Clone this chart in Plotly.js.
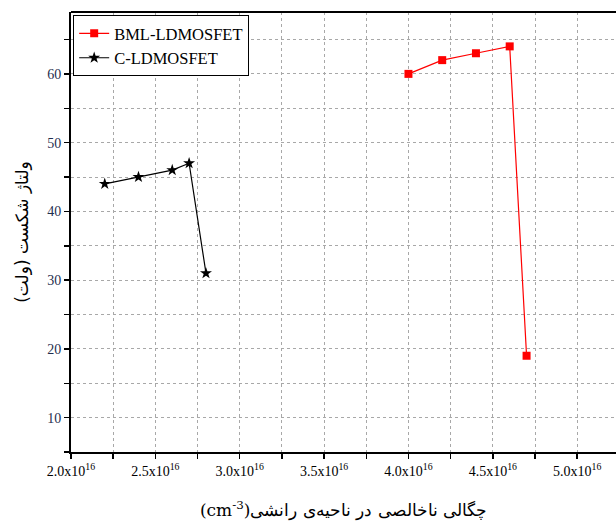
<!DOCTYPE html>
<html>
<head>
<meta charset="utf-8">
<script src="https://cdn.plot.ly/plotly-3.0.1.min.js"></script>
<style>body{margin:0;padding:0;background:#fff;}#chart{width:616px;height:528px;}</style>
</head>
<body>
<div id="chart"></div>
<script>
// Data: doping in units of 1e16 cm^-3, breakdown voltage in V
const bmlX = [4.0, 4.2, 4.4, 4.6, 4.7];
const bmlY = [60, 62, 63, 64, 19];
const cX = [2.2, 2.4, 2.6, 2.7, 2.8];
const cY = [44, 45, 46, 47, 31];
const seriesNames = ['BML-LDMOSFET', 'C-LDMOSFET'];
const xTickSuffix = 'x10<sup>16</sup>';

const serif = 'Liberation Serif, Times New Roman, serif';
const traces = [
  {x: bmlX, y: bmlY, name: seriesNames[0], type: 'scatter', mode: 'lines+markers',
   line: {color: '#ff0000', width: 1.2}, marker: {symbol: 'square', size: 8, color: '#ff0000'}},
  {x: cX, y: cY, name: seriesNames[1], type: 'scatter', mode: 'lines+markers',
   line: {color: '#000000', width: 1.2}, marker: {symbol: 'star', size: 9, color: '#000000'}}
];
const gridCol = '#a8a8a8';
const layout = {
  width: 616, height: 528,
  margin: {l: 71, r: 0, t: 12, b: 76},
  paper_bgcolor: '#fff', plot_bgcolor: '#fff',
  showlegend: true,
  legend: {x: 0.004, y: 0.993, xanchor: 'left', yanchor: 'top', bgcolor: '#fff',
    bordercolor: '#000', borderwidth: 1, font: {family: serif, size: 16.5, color: '#000'},
    tracegroupgap: 0},
  xaxis: {
    range: [2.0, 5.23], tickmode: 'linear', tick0: 2.0, dtick: 0.25, ticklabelstep: 2,
    tickformat: '.1f', ticksuffix: xTickSuffix,
    showline: true, linecolor: '#000', linewidth: 2, ticks: 'outside', ticklen: 5, tickwidth: 1.5,
    tickcolor: '#000', zeroline: false,
    showgrid: true, gridcolor: gridCol, griddash: 'dot', gridwidth: 1,
    tickfont: {family: serif, size: 14, color: '#000'},
    title: {text: '(cm<sup>-3</sup>)چگالی ناخالصی در ناحیه‌ی رانشی', standoff: 26,
      font: {family: 'DejaVu Serif, Liberation Serif, serif', size: 17, color: '#000'}}
  },
  yaxis: {
    range: [5, 69], tickmode: 'linear', tick0: 10, dtick: 5, ticklabelstep: 2,
    showline: true, linecolor: '#000', linewidth: 2, ticks: 'outside', ticklen: 5, tickwidth: 1.5,
    tickcolor: '#000', zeroline: false,
    showgrid: true, gridcolor: gridCol, griddash: 'dot', gridwidth: 1,
    tickfont: {family: serif, size: 14, color: '#1f2f4f'},
    title: {text: 'ولتاژ شکست (ولت)', standoff: 14,
      font: {family: 'DejaVu Sans, sans-serif', size: 17, color: '#000'}}
  },
  shapes: [{type: 'line', xref: 'paper', yref: 'paper', x0: 0, x1: 1, y0: 1, y1: 1,
    line: {color: '#000', width: 2}}]
};
Plotly.newPlot('chart', traces, layout, {staticPlot: true, displayModeBar: false});
</script>
</body>
</html>
